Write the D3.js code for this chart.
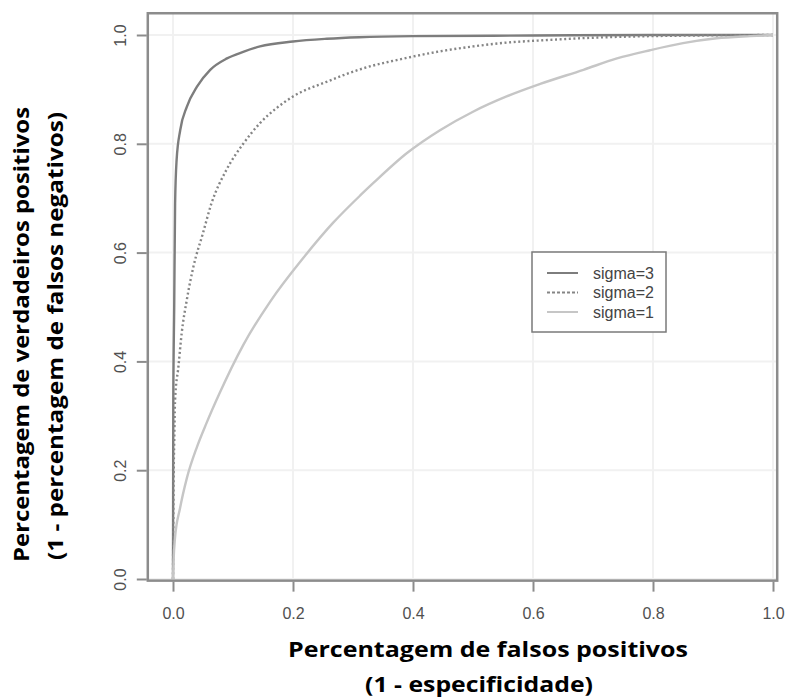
<!DOCTYPE html>
<html>
<head>
<meta charset="utf-8">
<script src="https://cdn.jsdelivr.net/npm/d3@7"></script>
<style>
  body { margin: 0; background: #fff; }
  svg { display: block; }
</style>
</head>
<body>
<svg id="roc" width="787" height="697"></svg>
<script>
// curves: [false positive rate, true positive rate]
var sigma3 = [[0,0],[0.0002,0.15],[0.0005,0.33],[0.002,0.5],[0.0035,0.69],[0.006,0.77],[0.012,0.825],
  [0.023,0.868],[0.04,0.905],[0.062,0.936],[0.09,0.957],[0.117,0.969],[0.145,0.979],[0.2,0.988],
  [0.256,0.993],[0.31,0.996],[0.4,0.998],[0.6,0.999],[0.8,1],[1,1]];

var sigma2 = [[0,0],[0.0005,0.1],[0.001,0.18],[0.002,0.25],[0.0035,0.33],[0.009,0.39],[0.0145,0.452],
  [0.023,0.513],[0.034,0.574],[0.05,0.636],[0.064,0.69],[0.089,0.752],[0.117,0.8],[0.145,0.838],
  [0.173,0.866],[0.2,0.887],[0.256,0.914],[0.312,0.937],[0.39,0.958],[0.445,0.97],[0.5,0.979],
  [0.556,0.986],[0.612,0.99],[0.7,0.995],[0.8,0.998],[1,1]];

var sigma1 = [[0,0],[0.001,0.035],[0.0033,0.075],[0.0117,0.13],[0.023,0.185],[0.04,0.243],[0.056,0.287],
  [0.077,0.34],[0.117,0.43],[0.162,0.51],[0.217,0.59],[0.267,0.655],[0.312,0.705],[0.334,0.728],
  [0.39,0.783],[0.445,0.825],[0.5,0.859],[0.556,0.887],[0.612,0.91],[0.684,0.936],[0.74,0.957],
  [0.795,0.972],[0.85,0.985],[0.906,0.994],[0.962,0.998],[1,1]];

var tickValues = [0, 0.2, 0.4, 0.6, 0.8, 1.0];
var legendLabels = ["sigma=3", "sigma=2", "sigma=1"];

var svg = d3.select("svg#roc");

var x = d3.scaleLinear().domain([0, 1]).range([173, 773]);
var y = d3.scaleLinear().domain([0, 1]).range([579, 35]);

var axisColor = "#8c8c8c";

// light grid
svg.append("g").selectAll("line.vg")
    .data(tickValues).enter().append("line")
    .attr("x1", function(d) { return x(d); }).attr("x2", function(d) { return x(d); })
    .attr("y1", y(-0.003)).attr("y2", y(1.04))
    .attr("stroke", "#f1f1f1").attr("stroke-width", 2);
svg.append("g").selectAll("line.hg")
    .data(tickValues).enter().append("line")
    .attr("y1", function(d) { return y(d); }).attr("y2", function(d) { return y(d); })
    .attr("x1", x(-0.042)).attr("x2", x(1.007))
    .attr("stroke", "#f1f1f1").attr("stroke-width", 2);

// curves
var line = d3.line()
    .x(function(d) { return x(d[0]); })
    .y(function(d) { return y(d[1]); })
    .curve(d3.curveMonotoneX);

var series = [
  {data: sigma3, color: "#7d7d7d", dash: null},
  {data: sigma2, color: "#858585", dash: "2,2.6"},
  {data: sigma1, color: "#c6c6c6", dash: null}
];

svg.append("g").selectAll("path")
    .data(series).enter().append("path")
    .attr("fill", "none")
    .attr("stroke", function(d) { return d.color; })
    .attr("stroke-dasharray", function(d) { return d.dash; })
    .attr("stroke-width", 2.4)
    .attr("stroke-linejoin", "round")
    .attr("d", function(d) { return line(d.data); });

// frame
svg.append("rect")
    .attr("x", x(-0.042)).attr("y", y(1.04))
    .attr("width", x(1.007) - x(-0.042))
    .attr("height", y(-0.003) - y(1.04))
    .attr("fill", "none")
    .attr("stroke", axisColor)
    .attr("stroke-width", 2.5);

// axes
var xAxis = svg.append("g")
    .attr("transform", "translate(0," + (y(-0.003) + 1) + ")")
    .call(d3.axisBottom(x).tickValues(tickValues).tickSize(10).tickPadding(16)
      .tickFormat(d3.format(".1f")));
var yAxis = svg.append("g")
    .attr("transform", "translate(" + (x(-0.042) - 1) + ",0)")
    .call(d3.axisLeft(y).tickValues(tickValues).tickSize(10).tickPadding(0)
      .tickFormat(d3.format(".1f")));

[xAxis, yAxis].forEach(function(a) {
  a.select(".domain").remove();
  a.selectAll(".tick line").attr("stroke", axisColor).attr("stroke-width", 2);
  a.selectAll(".tick text")
    .attr("fill", "#505050")
    .style("font-family", "'Liberation Sans', Arial, sans-serif")
    .style("font-size", "16px");
});

yAxis.selectAll(".tick text")
    .attr("x", null).attr("dy", null)
    .attr("text-anchor", "middle")
    .attr("transform", "translate(-21,0) rotate(-90)")
    .attr("y", 0);

// legend
var legend = svg.append("g");
legend.append("rect")
    .attr("x", 532).attr("y", 252).attr("width", 134).attr("height", 80)
    .attr("fill", "#fff").attr("stroke", "#7a7a7a").attr("stroke-width", 1.5);

var rows = legend.selectAll("g.row")
    .data(legendLabels).enter().append("g")
    .attr("transform", function(d, i) { return "translate(0," + (273 + i * 19.5) + ")"; });

rows.append("line")
    .attr("x1", 547).attr("x2", 578)
    .attr("stroke", function(d, i) { return series[i].color; })
    .attr("stroke-dasharray", function(d, i) { return series[i].dash ? "3,2" : null; })
    .attr("stroke-width", 2);

rows.append("text")
    .attr("x", 593).attr("y", 5.5)
    .attr("fill", "#444")
    .style("font-family", "'Liberation Sans', Arial, sans-serif")
    .style("font-size", "16px")
    .text(function(d) { return d; });

// axis titles
var titleFont = "'Open Sans', 'Noto Sans', sans-serif";

svg.append("text")
    .attr("x", 488).attr("y", 657)
    .attr("text-anchor", "middle")
    .attr("textLength", 400).attr("lengthAdjust", "spacingAndGlyphs")
    .style("font-family", titleFont).style("font-weight", 700).style("font-size", "21px")
    .text("Percentagem de falsos positivos");
svg.append("text")
    .attr("x", 479).attr("y", 692)
    .attr("text-anchor", "middle")
    .attr("textLength", 228).attr("lengthAdjust", "spacingAndGlyphs")
    .style("font-family", titleFont).style("font-weight", 700).style("font-size", "21px")
    .text("(1 - especificidade)");

svg.append("text")
    .attr("transform", "translate(29,334.5) rotate(-90)")
    .attr("text-anchor", "middle")
    .attr("textLength", 455).attr("lengthAdjust", "spacingAndGlyphs")
    .style("font-family", titleFont).style("font-weight", 700).style("font-size", "21px")
    .text("Percentagem de verdadeiros positivos");
svg.append("text")
    .attr("transform", "translate(63,336) rotate(-90)")
    .attr("text-anchor", "middle")
    .attr("textLength", 448).attr("lengthAdjust", "spacingAndGlyphs")
    .style("font-family", titleFont).style("font-weight", 700).style("font-size", "21px")
    .text("(1 - percentagem de falsos negativos)");
</script>
</body>
</html>
